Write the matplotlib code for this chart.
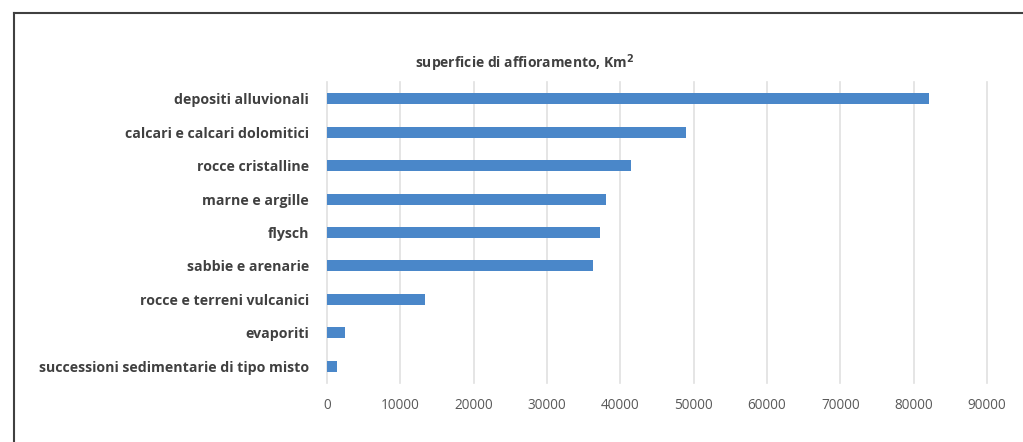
import matplotlib
matplotlib.use('Agg')
import matplotlib.pyplot as plt
from matplotlib.lines import Line2D

# categorie e superfici (Km2)
categorie = ['depositi alluvionali', 'calcari e calcari dolomitici', 'rocce cristalline',
             'marne e argille', 'flysch', 'sabbie e arenarie',
             'rocce e terreni vulcanici', 'evaporiti',
             'successioni sedimentarie di tipo misto']
superfici = [82000, 49000, 41400, 38100, 37200, 36300, 13400, 2500, 1400]
tick_x = [0, 10000, 20000, 30000, 40000, 50000, 60000, 70000, 80000, 90000]

plt.rcParams['font.family'] = ['Open Sans', 'DejaVu Sans']

fig = plt.figure(figsize=(10.23, 4.42), dpi=100)
ax = fig.add_axes([0.3196, 0.134, 0.6454, 0.68])

pos = list(range(len(categorie)))[::-1]
ax.barh(pos, superfici, height=0.33, color='#4a87c9', zorder=3)

ax.set_xlim(0, 90000)
ax.set_ylim(-0.5, len(categorie) - 0.5)
ax.set_xticks(tick_x)
ax.set_xticklabels([str(t) for t in tick_x], fontsize=9.8, color='#595959')
ax.set_yticks(pos)
ax.set_yticklabels(categorie, fontsize=10.2, color='#404040', fontweight='bold')
ax.tick_params(length=0)
ax.tick_params(axis='x', pad=11)
ax.tick_params(axis='y', pad=13)
ax.grid(axis='x', color='#e0e0e0', linewidth=1.2, zorder=0, clip_on=False)
for gl in ax.get_xgridlines():
    gl.set_clip_on(False)
for s in ax.spines.values():
    s.set_visible(False)

fig.text(0.513, 0.858, 'superficie di affioramento, Km$^{\\mathbf{2}}$', ha='center',
         va='center', fontsize=10, fontweight='bold', color='#404040')

# cornice
fig.add_artist(Line2D([14/1023, 1.0], [1 - 13/442, 1 - 13/442], color='#404040', lw=1.5))
fig.add_artist(Line2D([14/1023, 14/1023], [0, 1 - 13/442], color='#404040', lw=1.5))

fig.savefig('out.png', dpi=100)
